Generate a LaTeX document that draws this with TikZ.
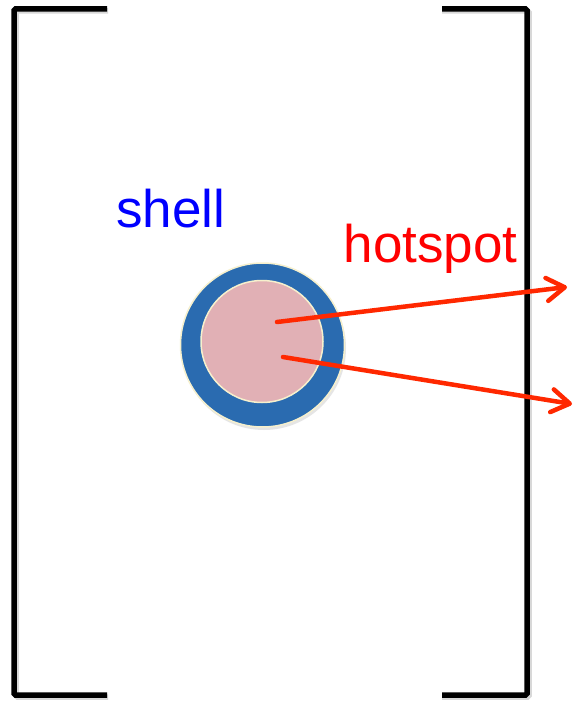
\documentclass[tikz,border=0pt]{standalone}
\usepackage{fontspec}
\setmainfont{Liberation Sans}
\usetikzlibrary{arrows.meta}
\definecolor{shellblue}{RGB}{42,107,176}
\definecolor{hotpink}{RGB}{225,176,181}
\definecolor{rimcream}{RGB}{246,240,205}
\definecolor{arrowred}{RGB}{255,40,0}
\tikzset{
  bracket/.style={line width=5.5pt, rounded corners=1.5pt},
  bracketshadow/.style={line width=5.5pt, rounded corners=1.5pt, black!25, opacity=0.6},
  ray/.style={arrowred, line width=4.5pt, line cap=round,
    -{Straight Barb[length=18pt, width=23pt, line cap=round, line join=round]}},
  label/.style={inner sep=0pt, anchor=base west, font=\fontsize{53}{60}\selectfont},
}
\begin{document}
\begin{tikzpicture}[x=1pt, y=-1pt]
  \useasboundingbox (0,0) rectangle (574,703);
  \fill[white] (0,0) rectangle (574,703);

  % square brackets enclosing the cell
  \draw[bracketshadow] (108,11) -- (16,11) -- (16,697) -- (108,697);
  \draw[bracketshadow] (442,11) -- (529,11) -- (529,697) -- (442,697);
  \draw[bracket] (107,9) -- (14,9) -- (14,695) -- (107,695);
  \draw[bracket] (442,9) -- (527,9) -- (527,695) -- (442,695);

  % core-shell particle
  \fill[black!20, opacity=0.5] (264,348) circle (82);
  \node[circle, minimum size=164pt, inner sep=0pt, fill=shellblue,
        draw=rimcream, line width=1.5pt] (shell) at (262.5,345) {};
  \node[circle, minimum size=122pt, inner sep=0pt, fill=hotpink,
        draw=rimcream, line width=1.5pt] (core) at (262,341.5) {};

  % labels
  \node[label, text=blue] (shelllabel) at (116,228) {shell};
  \node[label, text=red] (hotlabel) at (343.5,262.7) {hotspot};

  % emitted rays
  \coordinate (src1) at (277,322);
  \coordinate (src2) at (283,357);
  \coordinate (tip1) at (567,287);
  \coordinate (tip2) at (572,404);
  \draw[ray] (src1) -- (tip1);
  \draw[ray] (src2) -- (tip2);
\end{tikzpicture}
\end{document}
